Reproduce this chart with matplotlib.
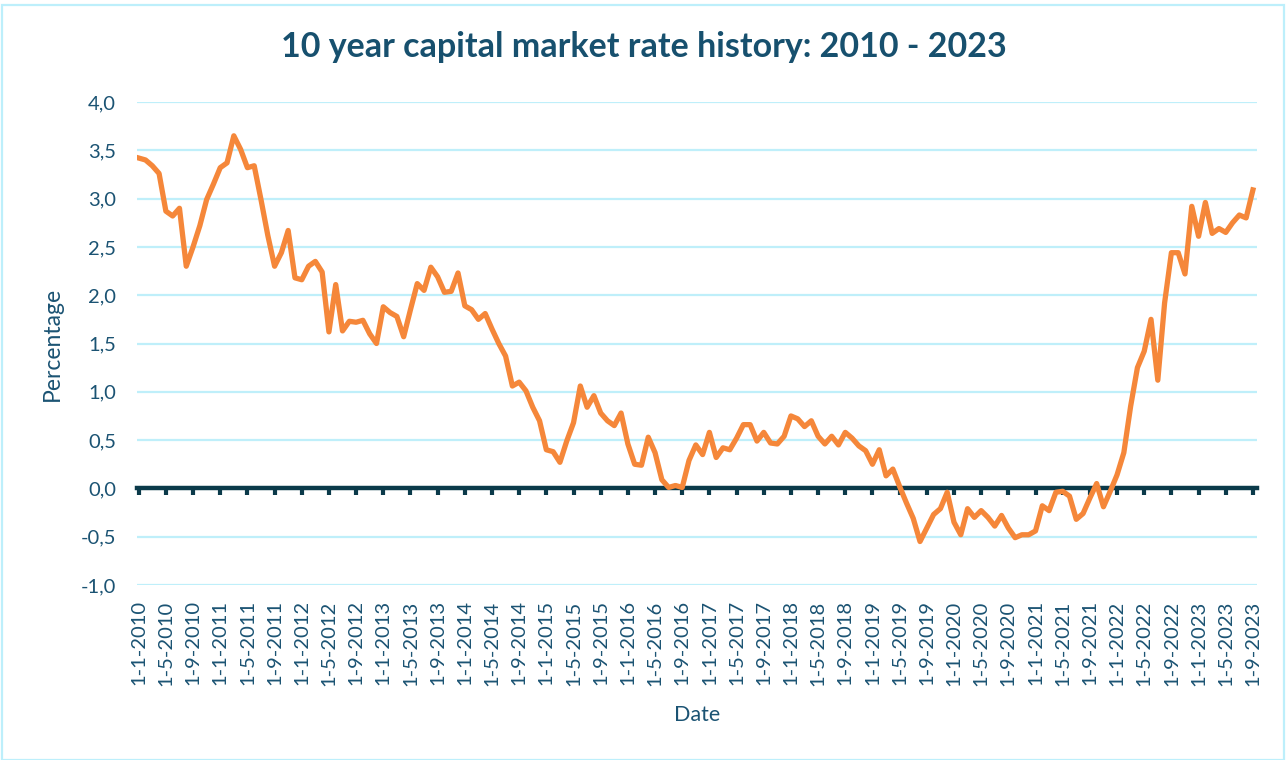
import matplotlib
matplotlib.use("Agg")
import matplotlib.pyplot as plt
from matplotlib.patches import Rectangle

# Monthly 10-year capital market rate, Jan 2010 .. Sep 2023 (percent)
start_year = 2010
rates = [
    3.42, 3.40, 3.34, 3.26, 2.87, 2.82, 2.90, 2.30, 2.50, 2.72, 2.99, 3.15,   # 2010
    3.32, 3.37, 3.65, 3.51, 3.32, 3.34, 2.99, 2.62, 2.30, 2.44, 2.67, 2.18,   # 2011
    2.16, 2.30, 2.35, 2.24, 1.62, 2.11, 1.63, 1.73, 1.72, 1.74, 1.60, 1.50,   # 2012
    1.88, 1.82, 1.78, 1.57, 1.85, 2.12, 2.05, 2.29, 2.19, 2.03, 2.04, 2.23,   # 2013
    1.89, 1.85, 1.75, 1.81, 1.65, 1.50, 1.37, 1.06, 1.10, 1.01, 0.84, 0.70,   # 2014
    0.40, 0.38, 0.27, 0.49, 0.68, 1.06, 0.84, 0.96, 0.78, 0.70, 0.65, 0.78,   # 2015
    0.46, 0.25, 0.24, 0.53, 0.37, 0.09, 0.01, 0.03, 0.01, 0.29, 0.45, 0.35,   # 2016
    0.58, 0.32, 0.42, 0.40, 0.52, 0.66, 0.66, 0.49, 0.58, 0.47, 0.46, 0.54,   # 2017
    0.75, 0.72, 0.64, 0.70, 0.54, 0.46, 0.54, 0.45, 0.58, 0.52, 0.44, 0.39,   # 2018
    0.25, 0.40, 0.13, 0.20, 0.02, -0.15, -0.31, -0.55, -0.41, -0.27, -0.21, -0.04,  # 2019
    -0.35, -0.48, -0.21, -0.30, -0.23, -0.30, -0.39, -0.28, -0.41, -0.51, -0.48, -0.48,  # 2020
    -0.44, -0.18, -0.23, -0.04, -0.03, -0.08, -0.32, -0.26, -0.10, 0.05, -0.19, -0.03,  # 2021
    0.14, 0.37, 0.85, 1.25, 1.42, 1.75, 1.12, 1.92, 2.44, 2.44, 2.22, 2.92,   # 2022
    2.61, 2.96, 2.64, 2.69, 2.65, 2.75, 2.83, 2.80, 3.09,                     # 2023
]
date_labels = [f"1-{(i % 12) + 1}-{start_year + i // 12}" for i in range(len(rates))]
y_ticks = [-1.0, -0.5, 0.0, 0.5, 1.0, 1.5, 2.0, 2.5, 3.0, 3.5, 4.0]

TEXT = "#1B5373"
TITLE = "#17506E"
GRID = "#BFEFFA"
LINE = "#F5873A"
ZERO = "#0B3A4A"
FONT = ["Lato", "DejaVu Sans"]

plt.rcParams["font.family"] = FONT

fig = plt.figure(figsize=(12.87, 7.60), dpi=100)
fig.patches.append(Rectangle((0.0015, 0.0), 0.9965, 0.994, transform=fig.transFigure,
                             fill=False, edgecolor="#BDEFFB", linewidth=1.6, zorder=0))

ax = fig.add_axes([137 / 1287, 1 - 585 / 760, (1257 - 137) / 1287, (585 - 102) / 760])
x = list(range(len(rates)))
ax.plot(x, rates, color=LINE, linewidth=3.8, solid_joinstyle="round", zorder=4)

ax.set_xlim(-0.25, 164.6)
ax.set_ylim(-1.0, 4.0)
ax.set_yticks(y_ticks)
ax.set_yticklabels([f"{v:.1f}".replace(".", ",") for v in y_ticks])
ax.yaxis.grid(True, color=GRID, linewidth=1.6)
ax.set_axisbelow(True)
for s in ["top", "right", "left"]:
    ax.spines[s].set_visible(False)
ax.tick_params(axis="y", length=0, labelsize=14.5, labelcolor=TEXT, pad=15)

tick_pos = x[::4]
ax.spines["bottom"].set_position(("data", 0))
ax.spines["bottom"].set_color(ZERO)
ax.spines["bottom"].set_linewidth(3.2)
ax.spines["bottom"].set_zorder(3)
ax.set_xticks(tick_pos)
ax.tick_params(axis="x", direction="out", length=5, width=3, color=ZERO, labelbottom=False)

sec = ax.secondary_xaxis(0.0)
sec.set_xticks(tick_pos)
sec.set_xticklabels([date_labels[i] for i in tick_pos], rotation=90)
sec.spines["bottom"].set_visible(False)
sec.tick_params(axis="x", length=0, labelsize=14.5, labelcolor=TEXT, pad=11)
sec.set_xlabel("Date", fontsize=15.5, color=TEXT, labelpad=14)

ax.set_ylabel("Percentage", fontsize=16.5, color=TEXT, labelpad=13)

fig.text(0.500, 1 - 47 / 760, "10 year capital market rate history: 2010 - 2023",
         ha="center", va="center", fontsize=24.5, fontweight="bold", color=TITLE)

fig.savefig("out.png", dpi=100)
